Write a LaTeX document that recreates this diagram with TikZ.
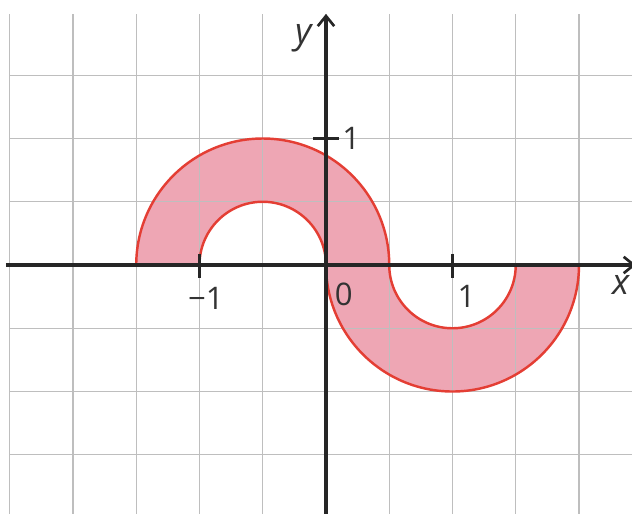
\documentclass[tikz,border=0pt]{standalone}
\usepackage{fontspec}
\setmainfont{Open Sans}
\usetikzlibrary{arrows.meta}
\definecolor{shapefill}{RGB}{238,166,180}
\definecolor{shapeline}{RGB}{228,62,52}
\definecolor{gridgray}{RGB}{190,190,190}
\tikzset{
  gridline/.style={draw=gridgray, line width=0.6pt},
  shapeedge/.style={draw=shapeline, line width=1.1pt, line join=round},
  axisline/.style={draw=black!85, line width=1.4pt, -{Straight Barb[length=1.6mm,width=2.6mm,line width=1.2pt]}},
  tickline/.style={draw=black!85, line width=1.4pt},
  lbl/.style={font=\fontsize{14}{16}\selectfont, text=black!80, inner sep=0pt},
  axlbl/.style={font=\fontsize{16}{18}\selectfont\itshape, text=black!80, inner sep=0pt}
}
\begin{document}
\begin{tikzpicture}[x=2cm,y=2cm]
\useasboundingbox (-2.577,-1.968) rectangle (2.419,2.095);
% filled region
\fill[shapefill] (-1.5,0) arc[start angle=180, end angle=0, radius=1]
  arc[start angle=180, end angle=360, radius=0.5] -- (2,0)
  arc[start angle=0, end angle=-180, radius=1]
  arc[start angle=0, end angle=180, radius=0.5] -- cycle;
% grid
\draw[gridline] (-2.5,-2) grid[step=0.5] (2.5,1.985);
% outline
\draw[shapeedge] (-1.5,0) arc[start angle=180, end angle=0, radius=1]
  arc[start angle=180, end angle=360, radius=0.5] -- (2,0)
  arc[start angle=0, end angle=-180, radius=1]
  arc[start angle=0, end angle=180, radius=0.5] -- cycle;
% axes
\coordinate (xs) at (-2.53,0);
\coordinate (xe) at (2.45,0);
\coordinate (ys) at (0,-2);
\coordinate (ye) at (0,1.985);
\draw[axisline] (xs) -- (xe);
\draw[axisline] (ys) -- (ye);
% ticks
\coordinate (tm1a) at (-1,0.09);
\coordinate (tm1b) at (-1,-0.1);
\coordinate (tp1a) at (1,0.09);
\coordinate (tp1b) at (1,-0.1);
\coordinate (ty1a) at (-0.1,1);
\coordinate (ty1b) at (0.1,1);
\draw[tickline] (tm1a) -- (tm1b);
\draw[tickline] (tp1a) -- (tp1b);
\draw[tickline] (ty1a) -- (ty1b);
% labels
\node[axlbl] (ylab) at (-0.18,1.79) {y};
\node[axlbl] (xlab) at (2.33,-0.16) {x};
\node[lbl] (l1y) at (0.2,1.0) {1};
\node[lbl] (lm1) at (-0.95,-0.26) {−1};
\node[lbl] (l1x) at (1.11,-0.25) {1};
\node[lbl] (l0) at (0.14,-0.23) {0};
\end{tikzpicture}
\end{document}
